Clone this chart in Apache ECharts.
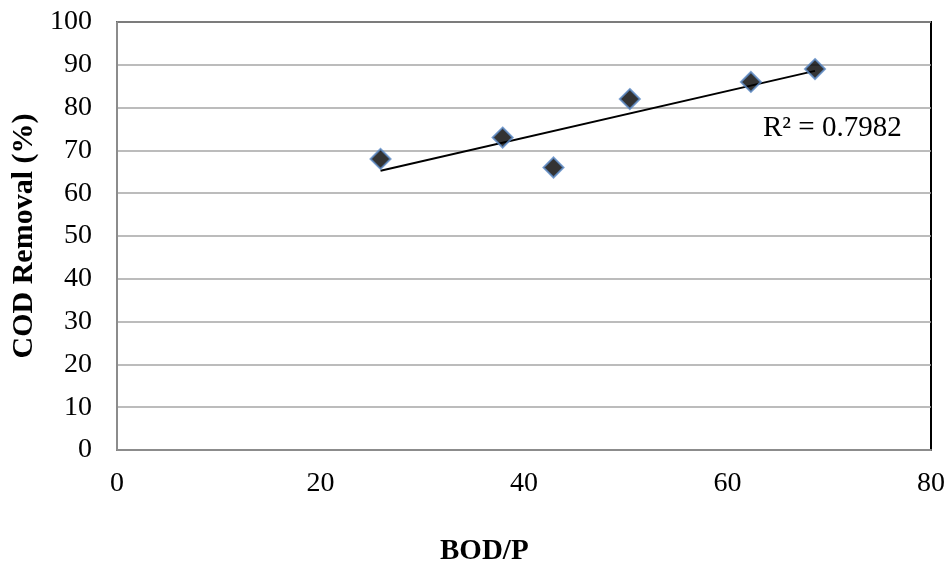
<!DOCTYPE html>
<html>
<head>
<meta charset="utf-8">
<script src="https://cdn.jsdelivr.net/npm/echarts@6/dist/echarts.min.js"></script>
<style>html,body{margin:0;padding:0;background:#fff;}#c{width:950px;height:565px;}</style>
</head>
<body>
<div id="c"></div>
<script>
const bodP = [25.9, 37.9, 42.9, 50.4, 62.3, 68.6];
const codRemoval = [68, 73, 66, 82, 86, 89];
const rSquaredLabel = 'R² = 0.7982';
const xTitle = 'BOD/P';
const yTitle = 'COD Removal (%)';

// linear regression trendline from the data
const n = bodP.length;
const mx = bodP.reduce((a, b) => a + b, 0) / n;
const my = codRemoval.reduce((a, b) => a + b, 0) / n;
let sxy = 0, sxx = 0;
for (let i = 0; i < n; i++) { sxy += (bodP[i] - mx) * (codRemoval[i] - my); sxx += (bodP[i] - mx) ** 2; }
const slope = sxy / sxx, icpt = my - slope * mx;
const xmin = Math.min(...bodP), xmax = Math.max(...bodP);
const trend = [[xmin, icpt + slope * xmin], [xmax, icpt + slope * xmax]];

const font = 'Liberation Serif, Times New Roman, serif';
const chart = echarts.init(document.getElementById('c'), null, {renderer: 'canvas'});
chart.setOption({
  animation: false,
  backgroundColor: '#fff',
  grid: {left: 117, right: 19, top: 22, bottom: 115, show: true, borderColor: '#000', borderWidth: 2, backgroundColor: 'transparent'},
  xAxis: {
    type: 'value', min: 0, max: 80, interval: 20,
    axisLine: {show: true, onZero: false, lineStyle: {color: '#8c8c8c', width: 2}},
    axisTick: {show: false},
    splitLine: {show: false},
    axisLabel: {color: '#000', fontFamily: font, fontSize: 28, margin: 20}
  },
  yAxis: {
    type: 'value', min: 0, max: 100, interval: 10,
    name: yTitle, nameLocation: 'middle', nameGap: 72,
    nameTextStyle: {color: '#000', fontFamily: font, fontSize: 30, fontWeight: 'bold'},
    axisLine: {show: true, lineStyle: {color: '#8c8c8c', width: 2}},
    axisTick: {show: false},
    splitLine: {show: true, lineStyle: {color: '#a6a6a6', width: 1.5}},
    axisLabel: {color: '#000', fontFamily: font, fontSize: 28, margin: 25}
  },
  graphic: [
    {type: 'text', left: 440, top: 537, style: {text: xTitle, font: 'bold 29px ' + font, fill: '#000'}},
    {type: 'text', left: 763, top: 114, style: {text: rSquaredLabel, font: '29px ' + font, fill: '#000'}}
  ],
  series: [
    {type: 'line', data: trend, symbol: 'none', lineStyle: {color: '#000', width: 2}, z: 2},
    {type: 'scatter', data: bodP.map((x, i) => [x, codRemoval[i]]), symbol: 'diamond', symbolSize: 20,
     itemStyle: {color: '#000', borderColor: '#5b8ac6', borderWidth: 2}, z: 3}
  ]
});
</script>
</body>
</html>
